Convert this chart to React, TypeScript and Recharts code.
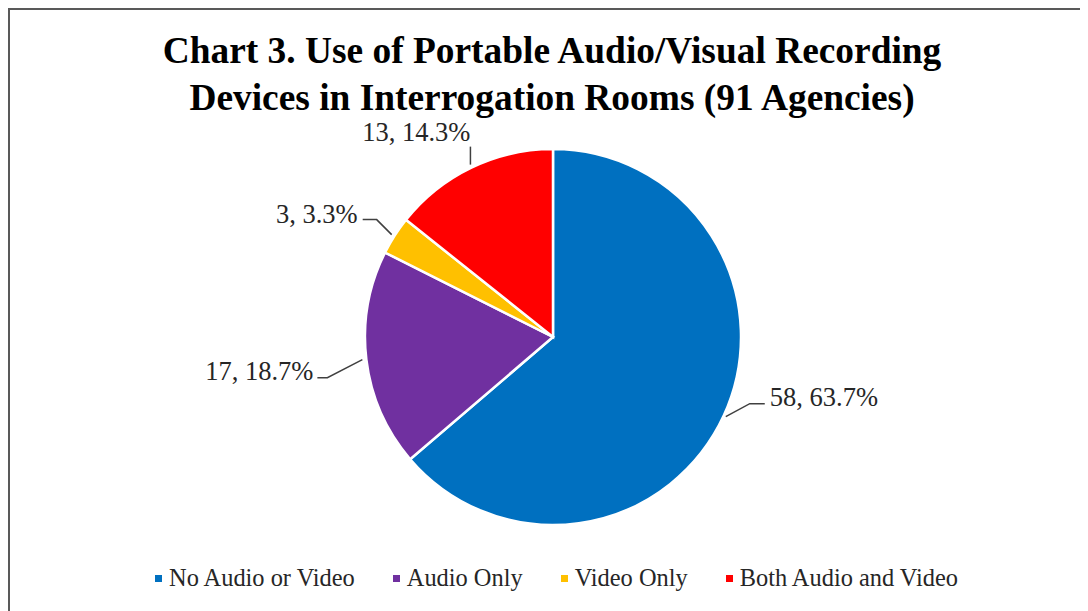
import React from "react";
import { PieChart, Pie, Cell, Legend } from "recharts";

const categories = ["No Audio or Video", "Audio Only", "Video Only", "Both Audio and Video"];
const counts = [58, 17, 3, 13];
const percents = ["63.7%", "18.7%", "3.3%", "14.3%"];
const colors = ["#0070C0", "#7030A0", "#FFC000", "#FF0000"];
const titleLines = [
  "Chart 3. Use of Portable Audio/Visual Recording",
  "Devices in Interrogation Rooms (91 Agencies)",
];

const data = categories.map((name, i) => ({ name, value: counts[i], pct: percents[i] }));

// leader-line layout per slice: offsets relative to the slice's outer edge midpoint
const labelLayout = [
  { start: [2, 1], elbow: [26, -12], end: [41, -12], anchor: "start", dx: 5, dy: -7 },
  { start: [-4, 0], elbow: [-39, 18], end: [-49, 18], anchor: "end", dx: -4, dy: -7 },
  { start: [-3, -1], elbow: [-18, -16], end: [-32, -16], anchor: "end", dx: -5, dy: -6 },
  { start: [-1, -3], elbow: [-1, -21], end: [-1, -21], anchor: "end", dx: 0, dy: -15 },
];

const RAD = Math.PI / 180;
const FONT = "'Liberation Serif', 'Times New Roman', serif";

const renderLabel = (props: any) => {
  const { cx, cy, midAngle, outerRadius, index, value, payload } = props;
  const px = cx + outerRadius * Math.cos(-midAngle * RAD);
  const py = cy + outerRadius * Math.sin(-midAngle * RAD);
  const L = labelLayout[index];
  const s = [px + L.start[0], py + L.start[1]];
  const e1 = [px + L.elbow[0], py + L.elbow[1]];
  const e2 = [px + L.end[0], py + L.end[1]];
  return (
    <g>
      <polyline
        points={`${s[0]},${s[1]} ${e1[0]},${e1[1]} ${e2[0]},${e2[1]}`}
        fill="none"
        stroke="#404040"
        strokeWidth={1.5}
      />
      <text
        x={e2[0] + L.dx}
        y={e2[1] + L.dy}
        textAnchor={L.anchor as any}
        dominantBaseline="central"
        fontFamily={FONT}
        fontSize={26.5}
        fill="#262626"
      >
        {`${value}, ${payload.pct}`}
      </text>
    </g>
  );
};

const renderLegend = () => {
  return (
    <div style={{ display: "flex", justifyContent: "center", paddingLeft: 17 }}>
      {categories.map((name, i) => (
        <div key={i} style={{ display: "flex", alignItems: "center", marginRight: i < categories.length - 1 ? 38 : 0 }}>
          <span style={{ width: 7, height: 7, background: colors[i], display: "inline-block", marginRight: 7, marginTop: 1 }} />
          <span style={{ fontFamily: FONT, fontSize: 24.4, color: "#262626", whiteSpace: "nowrap" }}>{name}</span>
        </div>
      ))}
    </div>
  );
};

export default function App() {
  return (
    <>
      <style>{`html,body{overflow:hidden}`}</style>
      <div style={{ position: "relative", width: 1080, height: 603, overflow: "hidden" }}>
        <div
          style={{
            position: "absolute",
            left: 0,
            top: 0,
            width: 1100,
            height: 620,
            border: "2px solid #595959",
            boxSizing: "border-box",
          }}
        />
        <div
          style={{
            position: "absolute",
            left: 0,
            top: 19,
            width: 1088,
            textAlign: "center",
            fontFamily: FONT,
            fontWeight: "bold",
            fontSize: 37.4,
            lineHeight: "47px",
            color: "#000",
          }}
        >
          {titleLines.map((t, i) => (
            <div key={i}>{t}</div>
          ))}
        </div>
        <div style={{ position: "absolute", left: 0, top: 0 }}>
          <PieChart width={1080} height={603}>
            <Pie
              data={data}
              dataKey="value"
              nameKey="name"
              cx={540}
              cy={324}
              outerRadius={188}
              startAngle={90}
              endAngle={-270}
              stroke="#fff"
              strokeWidth={2.5}
              label={renderLabel}
              labelLine={false}
              isAnimationActive={false}
            >
              {data.map((d, i) => (
                <Cell key={i} fill={colors[i]} />
              ))}
            </Pie>
            <Legend
              content={renderLegend}
              verticalAlign="bottom"
              wrapperStyle={{ left: 0, width: 1080, top: 556 }}
            />
          </PieChart>
        </div>
      </div>
    </>
  );
}
